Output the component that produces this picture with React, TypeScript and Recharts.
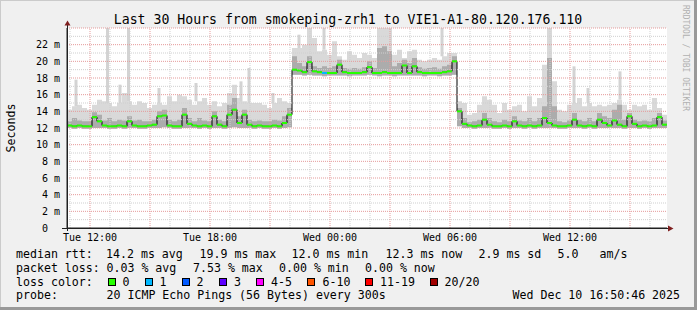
import React from "react";
import { ComposedChart, Area, Line, Scatter, ErrorBar, XAxis, YAxis, ReferenceLine } from "recharts";

// Smokeping RTT graph, 30 hours, one step = 15 min
const START_HOUR = 10.85; // Tue 10:51, hours since Tue 00:00
const STEP_HOURS = 0.25;

const xTicks = [12, 18, 24, 30, 36];
const xTickLabels = ["Tue 12:00", "Tue 18:00", "Wed 00:00", "Wed 06:00", "Wed 12:00"];
const yTicks = [0, 2, 4, 6, 8, 10, 12, 14, 16, 18, 20, 22];

// median rtt (ms)
const median = [
  12.3, 12.2, 12.3, 12.2, 12.2, 13.3, 12.8, 12.3, 12.2, 12.2,
  12.3, 12.2, 12.8, 12.3, 12.2, 12.2, 12.3, 12.4, 13.4, 13.5,
  12.3, 12.2, 12.2, 13.6, 12.5, 12.3, 12.2, 12.3, 12.2, 13.4,
  12.4, 12.2, 13.6, 14.2, 12.6, 13.6, 12.4, 12.2, 12.3, 12.2,
  12.2, 12.3, 12.2, 12.6, 13.6, 19.0, 18.9, 18.7, 19.9, 18.8,
  18.7, 18.6, 18.6, 18.6, 19.6, 18.7, 18.6, 18.6, 18.6, 18.7,
  19.3, 18.6, 18.6, 18.7, 18.6, 18.6, 18.6, 19.5, 18.6, 19.4,
  18.7, 18.6, 18.6, 18.6, 18.6, 18.7, 18.8, 20.0, 14.0, 12.5,
  12.3, 12.2, 12.3, 13.0, 12.4, 12.2, 12.2, 12.3, 12.2, 12.8,
  12.3, 12.2, 12.3, 12.2, 12.3, 13.2, 12.6, 12.3, 12.2, 12.2,
  12.3, 13.0, 12.3, 12.2, 12.3, 12.2, 13.0, 12.6, 12.3, 12.9,
  12.4, 12.2, 13.4, 12.5, 12.2, 12.3, 12.2, 12.3, 13.3, 12.4,
];

// lowest ping of each step (ms)
const smokeLow = [
  12.0, 11.9, 12.0, 11.9, 11.9, 12.0, 12.0, 12.0, 11.9, 11.9,
  12.0, 11.9, 12.0, 12.0, 11.9, 11.9, 12.0, 12.0, 12.0, 12.1,
  12.0, 11.9, 11.9, 12.0, 12.0, 12.0, 11.9, 12.0, 11.9, 12.0,
  12.0, 11.9, 12.0, 12.1, 12.0, 12.0, 12.0, 11.9, 12.0, 11.9,
  11.9, 12.0, 11.9, 12.0, 12.1, 18.4, 18.4, 18.3, 18.4, 18.3,
  18.3, 18.2, 18.3, 18.3, 18.3, 18.3, 18.2, 18.3, 18.3, 18.3,
  18.4, 18.3, 18.2, 18.3, 18.3, 18.2, 18.3, 18.3, 18.3, 18.3,
  18.3, 18.2, 18.3, 18.3, 18.2, 18.3, 18.3, 18.4, 12.2, 12.0,
  12.0, 11.9, 12.0, 12.0, 12.0, 11.9, 11.9, 12.0, 11.9, 12.0,
  12.0, 11.9, 12.0, 11.9, 12.0, 12.0, 12.0, 12.0, 11.9, 11.9,
  12.0, 12.0, 12.0, 11.9, 12.0, 11.9, 12.0, 12.0, 12.0, 12.0,
  12.0, 11.9, 12.0, 12.0, 11.9, 12.0, 11.9, 12.0, 12.0, 12.0,
];

// upper edge of the dense (dark) part of the smoke (ms)
const smokeCore = [
  12.8, 13.2, 12.9, 12.8, 12.8, 13.9, 13.6, 12.9, 13.2, 12.8,
  13.0, 12.9, 13.4, 12.9, 13.0, 12.8, 12.8, 13.0, 14.0, 14.2,
  13.0, 12.8, 13.0, 14.4, 13.2, 12.8, 13.2, 12.9, 12.8, 14.0,
  13.0, 12.8, 14.8, 15.6, 13.4, 14.2, 13.0, 12.8, 12.9, 12.8,
  12.8, 13.0, 12.9, 13.4, 14.4, 20.6, 19.8, 19.4, 20.6, 19.4,
  19.2, 19.4, 19.2, 19.4, 20.2, 19.2, 19.1, 19.2, 19.1, 19.3,
  20.0, 19.2, 21.6, 21.8, 21.2, 19.4, 19.8, 20.2, 19.8, 20.4,
  19.3, 19.1, 19.2, 19.3, 19.1, 19.4, 19.6, 20.6, 14.4, 13.2,
  12.7, 12.8, 13.0, 13.8, 13.2, 12.8, 12.7, 13.0, 12.8, 13.4,
  12.9, 12.8, 13.2, 12.8, 13.2, 14.6, 20.4, 14.6, 12.8, 12.7,
  12.9, 13.8, 13.0, 12.8, 13.2, 12.8, 13.8, 13.4, 13.2, 14.2,
  14.8, 13.0, 13.8, 13.0, 12.8, 12.9, 12.8, 13.2, 13.8, 12.9,
];

// highest ping of each step, without the single-ping spikes (ms)
const smokeHigh = [
  14.2, 14.6, 14.8, 14.4, 14.2, 14.8, 15.4, 15.2, 15.0, 14.6,
  15.0, 16.2, 15.2, 14.8, 15.2, 15.0, 14.4, 14.8, 15.0, 14.8,
  15.8, 15.2, 16.0, 15.8, 15.4, 14.8, 15.2, 15.6, 14.8, 15.2,
  14.6, 15.0, 16.2, 17.2, 15.6, 15.2, 15.0, 15.0, 15.0, 14.8,
  14.4, 15.0, 15.6, 15.2, 15.0, 21.6, 21.6, 22.0, 24.0, 22.8,
  21.2, 21.4, 20.8, 22.4, 20.6, 20.2, 21.2, 20.8, 20.4, 21.0,
  20.8, 20.4, 24.0, 24.0, 24.0, 20.8, 21.4, 20.4, 21.2, 21.4,
  20.2, 20.0, 20.2, 20.4, 20.2, 20.6, 21.0, 21.0, 15.2, 15.0,
  13.6, 13.8, 14.8, 15.8, 15.4, 14.8, 13.8, 15.0, 14.2, 14.6,
  14.8, 14.0, 15.8, 14.6, 15.6, 19.6, 24.0, 17.6, 14.2, 14.0,
  14.8, 15.0, 15.6, 14.6, 15.0, 14.6, 14.8, 14.6, 14.8, 15.0,
  15.4, 14.8, 14.2, 14.8, 14.6, 14.8, 14.2, 15.6, 14.4, 13.6,
];

// single-ping spikes: time (h since Tue 00:00), smoke level below, peak (ms)
const spikeTimes = [11.3, 12.875, 13.5, 13.925, 15.45, 17.3, 19.55, 19.95, 21.15, 22.45, 23.7, 29.6, 36.2, 36.9, 38.5];
const spikeBase = [14.6, 15.0, 15.0, 15.2, 15.0, 15.2, 15.2, 15.0, 15.0, 21.6, 21.4, 20.6, 15.0, 15.0, 15.4];
const spikeTop = [17.8, 24.0, 17.2, 24.0, 16.8, 17.4, 17.6, 19.2, 16.2, 23.2, 24.0, 24.0, 19.4, 16.8, 18.8];

// [step index, lost pings]
const lossSteps = [[51, 1]];

const lossColors = ["#26ff00", "#00b8ff", "#0059ff", "#5e00ff", "#ff00ff", "#ff5500", "#ff0000", "#a10000"];
const lossLabels = ["0", "1", "2", "3", "4-5", "6-10", "11-19", "20/20"];

const MONO = "'DejaVu Sans Mono', monospace";

const lossMap = new Map(lossSteps.map(([i, n]) => [i, n]));
const rows: any[] = median.map((m, i) => ({
  t: START_HOUR + i * STEP_HOURS,
  light: [smokeLow[i], smokeHigh[i]],
  dark: [smokeLow[i], smokeCore[i]],
  median: m,
  loss: lossMap.get(i) || 0,
}));
// closing row so the last step is drawn to the right edge
const last = rows[rows.length - 1];
rows.push({ ...last, t: START_HOUR + median.length * STEP_HOURS, end: true });

const spikes = spikeTimes.map((t, i) => ({ t, top: spikeTop[i], err: [spikeTop[i] - spikeBase[i], 0] }));

// grid: minor every 1 ms / 1 h, major every 2 ms / 3 h
const minorH = [1, 3, 5, 7, 9, 11, 13, 15, 17, 19, 21, 23];
const majorH = [2, 4, 6, 8, 10, 12, 14, 16, 18, 20, 22, 24];
const minorV = [11, 13, 14, 16, 17, 19, 20, 22, 23, 25, 26, 28, 29, 31, 32, 34, 35, 37, 38, 40];
const majorV = [12, 15, 18, 21, 24, 27, 30, 33, 36, 39];

function YTick({ x, y, payload }: any) {
  const v = payload.value;
  return (
    <text x={x} y={y} dy={3.6} dx={v === 0 ? -12 : 0} textAnchor="end" fontFamily={MONO} fontSize={10} fill="#000">
      {v === 0 ? "0" : `${v} m`}
    </text>
  );
}

function MedianDash({ cx, cy, payload }: any) {
  if (payload.end) return <g />;
  const c = payload.loss > 0 ? lossColors[Math.min(payload.loss, 3)] : lossColors[0];
  return <line x1={cx} x2={cx + 5} y1={cy} y2={cy} stroke={c} strokeWidth={2} />;
}

const legendRows = [
  {
    y: 257.5,
    items: [
      [16, "median rtt:"], [106, "14.2 ms avg"], [199.5, "19.9 ms max"], [291.5, "12.0 ms min"],
      [385.5, "12.3 ms now"], [478.5, "2.9 ms sd"], [557.5, "5.0"], [599.5, "am/s"],
    ],
  },
  {
    y: 271.5,
    items: [[16, "packet loss:"], [106.5, "0.03 % avg"], [193, "7.53 % max"], [279, "0.00 % min"], [365, "0.00 % now"]],
  },
  { y: 285.5, items: [[16, "loss color:"]] },
  {
    y: 299.3,
    items: [[16, "probe:"], [106.5, "20 ICMP Echo Pings (56 Bytes) every 300s"], [512.5, "Wed Dec 10 16:50:46 2025"]],
  },
];
const squareX = [108.5, 145.5, 182.5, 219.5, 256.5, 307.5, 365.5, 430.5];
const squareLabelX = [122.5, 159.5, 196.5, 234, 271, 322.5, 380, 444.5];

export default function App() {
  return (
    <div style={{ position: "relative", width: 697, height: 310, background: "#f0f0f0", overflow: "hidden" }}>
      <style>{"body{margin:0}"}</style>
      <div style={{ position: "absolute", left: 67, top: 28, width: 600, height: 200, background: "#fff" }} />
      <ComposedChart
        width={697}
        height={310}
        data={rows}
        margin={{ top: 28, right: 30, bottom: 52, left: 0 }}
        style={{ position: "absolute", left: 0, top: 0 }}
      >
        <XAxis
          dataKey="t"
          type="number"
          domain={[START_HOUR, START_HOUR + 30]}
          ticks={xTicks}
          interval={0}
          tickFormatter={(v) => xTickLabels[xTicks.indexOf(v)]}
          height={30}
          tickSize={0}
          tickMargin={6}
          tick={{ fontFamily: MONO, fontSize: 10, fill: "#000" }}
          axisLine={{ stroke: "#202020" }}
          allowDataOverflow
        />
        <YAxis
          type="number"
          domain={[0, 24]}
          ticks={yTicks}
          interval={0}
          width={67}
          tickSize={0}
          tickMargin={7}
          tick={<YTick />}
          axisLine={{ stroke: "#202020" }}
          allowDataOverflow
        />
        <Area dataKey="light" type="stepAfter" stroke="none" fill="#d9d9d9" fillOpacity={1} isAnimationActive={false} />
        <Scatter data={spikes} dataKey="top" shape={() => <g />} isAnimationActive={false}>
          <ErrorBar dataKey="err" direction="y" width={0} stroke="#d3d3d3" strokeWidth={3} isAnimationActive={false} />
        </Scatter>
        <Area dataKey="dark" type="stepAfter" stroke="none" fill="#acacac" fillOpacity={1} isAnimationActive={false} />
        <Line dataKey="median" type="stepAfter" stroke="#000000" strokeWidth={1} dot={false} isAnimationActive={false} />
        <Scatter dataKey="median" shape={<MedianDash />} isAnimationActive={false} />
        {minorH.map((v) => (
          <ReferenceLine key={`mh${v}`} y={v} stroke="#cfcfcf" strokeDasharray="1 1" />
        ))}
        {minorV.map((v) => (
          <ReferenceLine key={`mv${v}`} x={v} stroke="#cfcfcf" strokeDasharray="1 1" />
        ))}
        {majorH.map((v) => (
          <ReferenceLine key={`Mh${v}`} y={v} stroke="#e59a9a" strokeDasharray="1 1" />
        ))}
        {majorV.map((v) => (
          <ReferenceLine key={`Mv${v}`} x={v} stroke="#e59a9a" strokeDasharray="1 1" />
        ))}
      </ComposedChart>

      <svg width={697} height={310} style={{ position: "absolute", left: 0, top: 0, pointerEvents: "none" }}>
        {/* frame */}
        <rect x={0} y={0} width={697} height={1} fill="#cbcbcb" />
        <rect x={0} y={0} width={1} height={310} fill="#cbcbcb" />
        <rect x={694} y={0} width={3} height={310} fill="#999999" />
        <rect x={0} y={307} width={697} height={3} fill="#999999" />
        {/* axis extensions and arrows */}
        <line x1={62} x2={668} y1={228.5} y2={228.5} stroke="#202020" />
        <line x1={67.5} x2={67.5} y1={231} y2={25} stroke="#202020" />
        <polygon points="64.5,25.5 70.5,25.5 67.5,20.5" fill="#7f1f1f" />
        <polygon points="668,225.5 668,231.5 673.5,228.5" fill="#7f1f1f" />
        {/* titles */}
        <text x={348} y={24} textAnchor="middle" fontFamily={MONO} fontSize={13.2} fill="#000">
          Last 30 Hours from smokeping-zrh1 to VIE1-A1-80.120.176.110
        </text>
        <text transform="translate(15,128) rotate(-90)" textAnchor="middle" fontFamily={MONO} fontSize={11.6} fill="#000">
          Seconds
        </text>
        <text transform="translate(683,5) rotate(90)" fontFamily={MONO} fontSize={8} fill="#b0b0b0">
          RRDTOOL / TOBI OETIKER
        </text>
        {/* legend */}
        {legendRows.map((r) =>
          r.items.map(([x, s]) => (
            <text key={`${r.y}-${x}`} x={x as number} y={r.y} fontFamily={MONO} fontSize={11.6} fill="#000">
              {s}
            </text>
          ))
        )}
        {lossLabels.map((lbl, i) => (
          <g key={lbl}>
            <rect x={squareX[i]} y={278.5} width={7} height={7} fill={lossColors[i]} stroke="#000" strokeWidth={1} />
            <text x={squareLabelX[i]} y={285.5} fontFamily={MONO} fontSize={11.6} fill="#000">
              {lbl}
            </text>
          </g>
        ))}
      </svg>
    </div>
  );
}
